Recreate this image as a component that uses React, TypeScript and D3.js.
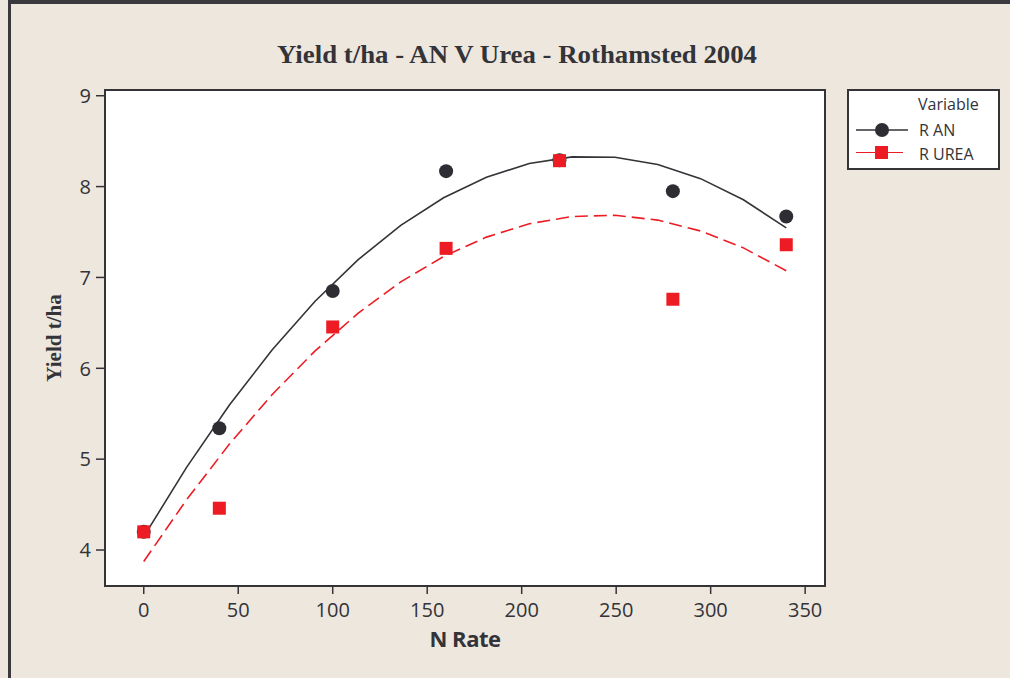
import React from "react";
import * as d3 from "d3";

// N application rates (kg N/ha)
const nRates = [0, 40, 100, 160, 220, 280, 340];
// Grain yield (t/ha) for ammonium nitrate and urea
const yieldAN = [4.2, 5.34, 6.85, 8.17, 8.29, 7.95, 7.67];
const yieldUrea = [4.2, 4.46, 6.455, 7.32, 8.285, 6.76, 7.36];

const xTicks = [0, 50, 100, 150, 200, 250, 300, 350];
const yTicks = [4, 5, 6, 7, 8, 9];

const W = 1010;
const H = 678;
const plot = { left: 105, right: 825, top: 90, bottom: 586 };

const BG = "#ede7de";
const DARK = "#333338";
const RED = "#ed1c24";

// Least-squares quadratic fit y = a + b x + c x^2
function quadFit(xs: number[], ys: number[]) {
  const u = xs.map((x) => x / 100);
  const s = (f: (i: number) => number) => d3.sum(u.map((_, i) => f(i)));
  const n = u.length;
  const S1 = s((i) => u[i]);
  const S2 = s((i) => u[i] ** 2);
  const S3 = s((i) => u[i] ** 3);
  const S4 = s((i) => u[i] ** 4);
  const T0 = s((i) => ys[i]);
  const T1 = s((i) => u[i] * ys[i]);
  const T2 = s((i) => u[i] ** 2 * ys[i]);
  const M = [
    [n, S1, S2, T0],
    [S1, S2, S3, T1],
    [S2, S3, S4, T2],
  ];
  for (let c = 0; c < 3; c++) {
    for (let r = c + 1; r < 3; r++) {
      const f = M[r][c] / M[c][c];
      for (let k = c; k < 4; k++) M[r][k] -= f * M[c][k];
    }
  }
  const coef = [0, 0, 0];
  for (let r = 2; r >= 0; r--) {
    let v = M[r][3];
    for (let k = r + 1; k < 3; k++) v -= M[r][k] * coef[k];
    coef[r] = v / M[r][r];
  }
  return (x: number) => coef[0] + coef[1] * (x / 100) + coef[2] * (x / 100) ** 2;
}

export default function App() {
  const x = d3.scaleLinear().domain([-20.5, 360.5]).range([plot.left, plot.right]);
  const y = d3.scaleLinear().domain([3.604, 9.063]).range([plot.bottom, plot.top]);

  const xMin = d3.min(nRates)!;
  const xMax = d3.max(nRates)!;
  const samples = d3.range(16).map((i) => xMin + ((xMax - xMin) * i) / 15);

  const fitAN = quadFit(nRates, yieldAN);
  const fitUrea = quadFit(nRates, yieldUrea);

  const line = d3
    .line<number[]>()
    .x((d) => x(d[0]))
    .y((d) => y(d[1]));

  const pathAN = line(samples.map((s) => [s, fitAN(s)])) || "";
  const pathUrea = line(samples.map((s) => [s, fitUrea(s)])) || "";

  const sans = "'Open Sans', 'Noto Sans', sans-serif";
  const serif = "'Liberation Serif', 'Times New Roman', serif";

  return (
    <div style={{ position: "absolute", left: 0, top: 0 }}>
      <svg width={W} height={H} style={{ display: "block" }}>
        <rect x={0} y={0} width={W} height={H} fill={BG} />
        {/* outer frame */}
        <rect x={8} y={0} width={W - 8} height={4} fill="#3a3a3e" />
        <rect x={8} y={0} width={3} height={H} fill="#3a3a3e" />

        <text
          x={517}
          y={63}
          textAnchor="middle"
          fontFamily={serif}
          fontWeight="bold"
          fontSize={25}
          textLength={480}
          lengthAdjust="spacingAndGlyphs"
          fill={DARK}
        >
          Yield t/ha - AN V Urea - Rothamsted 2004
        </text>

        {/* plot area */}
        <rect
          x={plot.left}
          y={plot.top}
          width={plot.right - plot.left}
          height={plot.bottom - plot.top}
          fill="#ffffff"
          stroke={DARK}
          strokeWidth={2}
        />

        {/* y axis */}
        {yTicks.map((t) => (
          <g key={"y" + t}>
            <line x1={plot.left - 9} x2={plot.left} y1={y(t)} y2={y(t)} stroke={DARK} strokeWidth={1.5} />
            <text
              x={91}
              y={y(t)}
              dy="0.36em"
              textAnchor="end"
              fontFamily={sans}
              fontSize={20}
              fill={DARK}
            >
              {t}
            </text>
          </g>
        ))}
        {/* x axis */}
        {xTicks.map((t) => (
          <g key={"x" + t}>
            <line x1={x(t)} x2={x(t)} y1={plot.bottom} y2={plot.bottom + 8} stroke={DARK} strokeWidth={1.5} />
            <text
              x={x(t)}
              y={617}
              textAnchor="middle"
              fontFamily={sans}
              fontSize={20}
              fill={DARK}
            >
              {t}
            </text>
          </g>
        ))}

        <text
          x={(plot.left + plot.right) / 2}
          y={647}
          textAnchor="middle"
          fontFamily={sans}
          fontWeight="bold"
          fontSize={22}
          letterSpacing={-0.5}
          fill={DARK}
        >
          N Rate
        </text>
        <text
          transform={`translate(61, ${(plot.top + plot.bottom) / 2}) rotate(-90)`}
          textAnchor="middle"
          fontFamily={serif}
          fontWeight="bold"
          fontSize={21}
          fill={DARK}
        >
          Yield t/ha
        </text>

        {/* fitted curves */}
        <path d={pathAN} fill="none" stroke={DARK} strokeWidth={1.6} />
        <path d={pathUrea} fill="none" stroke={RED} strokeWidth={1.6} strokeDasharray="13 6" />

        {/* observations */}
        {nRates.map((n, i) => (
          <circle key={"c" + i} cx={x(n)} cy={y(yieldAN[i])} r={7} fill="#2d2d33" />
        ))}
        {nRates.map((n, i) => (
          <rect
            key={"s" + i}
            x={x(n) - 6.5}
            y={y(yieldUrea[i]) - 6.5}
            width={13}
            height={13}
            fill={RED}
          />
        ))}

        {/* legend */}
        <rect x={848} y={90} width={151} height={79} fill="#ffffff" stroke={DARK} strokeWidth={2} />
        <text x={918} y={110} fontFamily={sans} fontSize={16} fill={DARK}>
          Variable
        </text>
        <line x1={856} x2={908} y1={130} y2={130} stroke={DARK} strokeWidth={1.6} />
        <circle cx={882} cy={130} r={7} fill="#2d2d33" />
        <text x={919} y={136} fontFamily={sans} fontSize={16} fill={DARK}>
          R AN
        </text>
        <line x1={856} x2={903} y1={152.5} y2={152.5} stroke={RED} strokeWidth={1.2} />
        <rect x={875} y={146} width={13} height={13} fill={RED} />
        <text x={919} y={160} fontFamily={sans} fontSize={16} fill={DARK}>
          R UREA
        </text>
      </svg>
    </div>
  );
}
